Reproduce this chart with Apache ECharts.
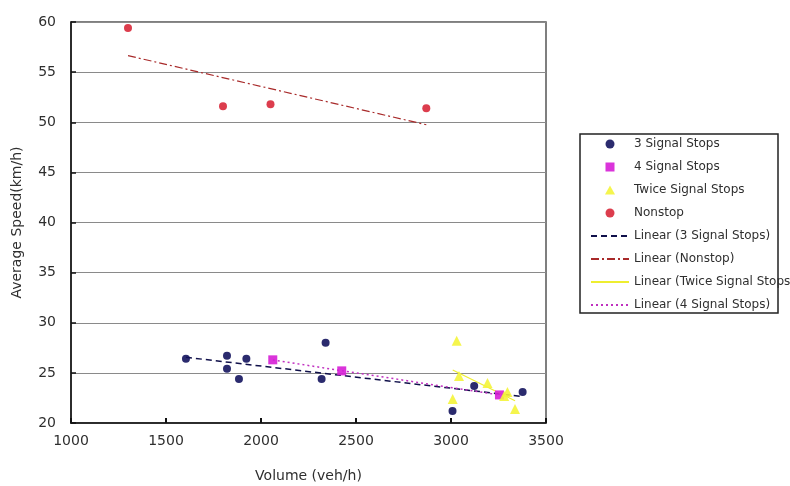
<!DOCTYPE html>
<html>
<head>
<meta charset="utf-8">
<script src="https://cdn.jsdelivr.net/npm/echarts@6/dist/echarts.min.js"></script>
<style>
    html, body { margin: 0; padding: 0; background: #fff; }
    #chart { width: 790px; height: 486px; }
</style>
</head>
<body>
<div id="chart"></div>
<script>
// values
var threeStopsVolume = [1605, 1821, 1821, 1884, 1923, 2340, 2319, 3008, 3122, 3377];
var threeStopsSpeed = [26.4, 26.7, 25.4, 24.4, 26.4, 28.0, 24.4, 21.2, 23.7, 23.1];

var fourStopsVolume = [2062, 2425, 3255];
var fourStopsSpeed = [26.3, 25.2, 22.8];

var twiceStopsVolume = [3030, 3042, 3009, 3192, 3297, 3280, 3337];
var twiceStopsSpeed = [28.2, 24.7, 22.4, 24.0, 23.1, 22.7, 21.4];

var nonstopVolume = [1300, 1800, 2050, 2870];
var nonstopSpeed = [59.4, 51.6, 51.8, 51.4];

var xTicks = [1000, 3500, 500];   // min, max, step
var yTicks = [20, 60, 5];

var vm = {
    chartDom: null,
    fontName: 'DejaVu Sans',
    textColor: '#2f2f2f'
};

function pairUp(xs, ys) {
    var out = [];
    for (var i = 0; i < xs.length; i++) {
        out.push([xs[i], ys[i]]);
    }
    return out;
}

// least squares line over the range of the points
function linearFit(xs, ys) {
    var n = xs.length, mx = 0, my = 0;
    for (var i = 0; i < n; i++) { mx += xs[i]; my += ys[i]; }
    mx /= n; my /= n;
    var sxy = 0, sxx = 0;
    for (var j = 0; j < n; j++) {
        sxy += (xs[j] - mx) * (ys[j] - my);
        sxx += (xs[j] - mx) * (xs[j] - mx);
    }
    var b = sxy / sxx;
    var a = my - b * mx;
    var x0 = Math.min.apply(null, xs), x1 = Math.max.apply(null, xs);
    return [[x0, a + b * x0], [x1, a + b * x1]];
}

function scatterSeries(name, xs, ys, symbol, size, color) {
    return {
        name: name,
        type: 'scatter',
        symbol: symbol,
        symbolSize: size,
        itemStyle: { color: color, opacity: 0.9 },
        data: pairUp(xs, ys),
        z: 3
    };
}

function trendSeries(name, xs, ys, color, dash, width) {
    return {
        name: name,
        type: 'line',
        symbol: 'none',
        showSymbol: false,
        silent: true,
        lineStyle: { color: color, width: width, type: dash },
        itemStyle: { color: color },
        data: linearFit(xs, ys),
        z: 2
    };
}

function getOption() {
    var axisText = { color: vm.textColor, fontFamily: vm.fontName, fontSize: 14 };
    var series = [
        scatterSeries('3 Signal Stops', threeStopsVolume, threeStopsSpeed, 'circle', 8, '#14145e'),
        scatterSeries('4 Signal Stops', fourStopsVolume, fourStopsSpeed, 'rect', 9, '#d61ed6'),
        scatterSeries('Twice Signal Stops', twiceStopsVolume, twiceStopsSpeed, 'triangle', 10, '#f4f43a'),
        scatterSeries('Nonstop', nonstopVolume, nonstopSpeed, 'circle', 8, '#d8283a'),
        trendSeries('Linear (3 Signal Stops)', threeStopsVolume, threeStopsSpeed, '#10104a', [6, 4], 1.5),
        trendSeries('Linear (Nonstop)', nonstopVolume, nonstopSpeed, '#a82a2a', [8, 3, 2, 3], 1.2),
        trendSeries('Linear (Twice Signal Stops', twiceStopsVolume, twiceStopsSpeed, '#eeee30', 'solid', 1.2),
        trendSeries('Linear (4 Signal Stops)', fourStopsVolume, fourStopsSpeed, '#c030c0', [2, 3], 1.5)
    ];

    // legend icons: small marks for the points, bare lines for the fits
    var legendData = [];
    for (var i = 0; i < series.length; i++) {
        var item = { name: series[i].name };
        if (series[i].type === 'scatter') {
            if (series[i].symbol === 'rect') {
                item.icon = 'path://M0,0L10,0L10,10L0,10Z';
            } else if (series[i].symbol === 'triangle') {
                item.icon = 'path://M5,0L10,9L0,9Z';
            } else {
                item.icon = 'circle';
            }
        } else {
            item.itemStyle = { opacity: 0 };
        }
        legendData.push(item);
    }

    return {
        backgroundColor: '#ffffff',
        animation: false,
        grid: {
            left: 71, right: 244, top: 22, bottom: 63,
            outerBoundsMode: 'none',
            show: true, borderColor: '#555', borderWidth: 1.5
        },
        legend: {
            orient: 'vertical',
            left: 585, top: 132,
            data: legendData,
            itemWidth: 38, itemHeight: 9, itemGap: 9,
            textStyle: { color: vm.textColor, fontFamily: vm.fontName, fontSize: 12, lineHeight: 14 },
            selectedMode: false
        },
        graphic: [{
            type: 'rect',
            shape: { x: 580, y: 134, width: 198, height: 179 },
            style: { fill: 'none', stroke: '#222', lineWidth: 1.5 },
            z: -1
        }],
        xAxis: {
            type: 'value',
            min: xTicks[0], max: xTicks[1], interval: xTicks[2],
            name: 'Volume (veh/h)',
            nameLocation: 'middle', nameGap: 46,
            nameTextStyle: axisText,
            axisLine: { lineStyle: { color: '#111', width: 1.5 } },
            axisTick: { inside: true, length: 5, lineStyle: { color: '#111', width: 2 } },
            axisLabel: {
                color: vm.textColor, fontFamily: vm.fontName, fontSize: 14, margin: 11,
                formatter: function (v) { return String(v); }
            },
            splitLine: { show: false }
        },
        yAxis: {
            type: 'value',
            min: yTicks[0], max: yTicks[1], interval: yTicks[2],
            name: 'Average Speed(km/h)',
            nameLocation: 'middle', nameGap: 47,
            nameTextStyle: axisText,
            axisLine: { lineStyle: { color: '#111', width: 1.5 } },
            axisTick: { inside: true, length: 5, lineStyle: { color: '#111', width: 1.5 } },
            axisLabel: { color: vm.textColor, fontFamily: vm.fontName, fontSize: 14, margin: 15 },
            splitLine: { lineStyle: { color: '#8a8a8a', width: 1 } }
        },
        series: series
    };
}

vm.chartDom = echarts.init(document.getElementById('chart'));
vm.chartDom.setOption(getOption());
</script>
</body>
</html>
